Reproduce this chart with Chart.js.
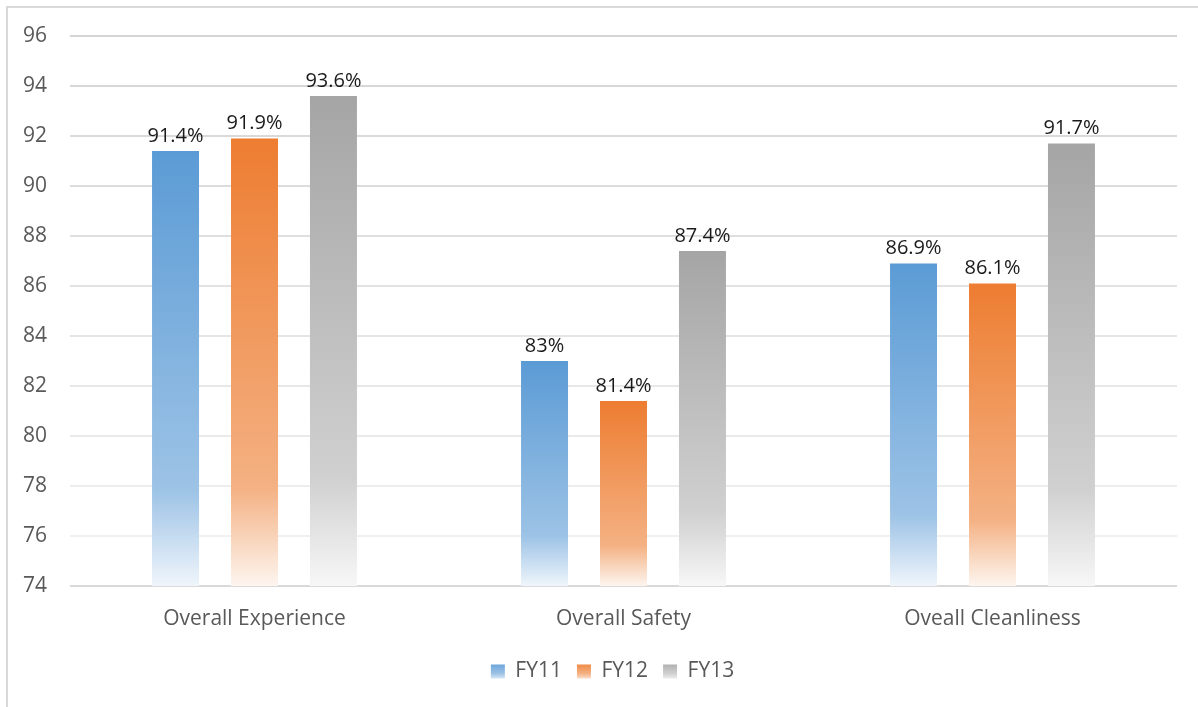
<!DOCTYPE html>
<html>
<head>
<meta charset="utf-8">
<script src="https://cdn.jsdelivr.net/npm/chart.js@4.4.1/dist/chart.umd.min.js"></script>
<style>
  html, body { margin: 0; padding: 0; background: #ffffff; overflow: hidden; }
  #wrap { position: absolute; left: 0; top: 0; width: 1198px; height: 707px; }
</style>
</head>
<body>
<div id="wrap"><canvas id="c" width="1198" height="707"></canvas></div>
<script>
// ---- data ----
const categories = ['Overall Experience', 'Overall Safety', 'Oveall Cleanliness'];
const seriesNames = ['FY11', 'FY12', 'FY13'];
const fy11 = [91.4, 83, 86.9];
const fy12 = [91.9, 81.4, 86.1];
const fy13 = [93.6, 87.4, 91.7];
const yTicks = [74, 76, 78, 80, 82, 84, 86, 88, 90, 92, 94, 96];

// ---- styles ----
const palettes = [
  ['#5b9bd5', '#9dc3e6', '#eff5fb'],
  ['#ed7d31', '#f4b183', '#fdf5ef'],
  ['#a5a5a5', '#d0d0d0', '#f7f7f7']
];
const FONT = '"Open Sans", "Noto Sans", sans-serif';

function barGradient(context, pal) {
  const chart = context.chart;
  const ys = chart.scales.y;
  if (!ys || context.raw === undefined) return pal[0];
  const top = ys.getPixelForValue(context.raw);
  const bottom = ys.bottom;
  if (!isFinite(top) || !isFinite(bottom) || bottom <= top) return pal[0];
  const g = chart.ctx.createLinearGradient(0, top, 0, bottom);
  g.addColorStop(0, pal[0]);
  g.addColorStop(0.78, pal[1]);
  g.addColorStop(1, pal[2]);
  return g;
}

const framePlugin = {
  id: 'frame',
  afterLayout(chart) {
    const lg = chart.legend;
    if (lg) { lg.left += 24; lg.right += 24; }
  },
  beforeDraw(chart) {
    const ctx = chart.ctx;
    ctx.save();
    ctx.strokeStyle = '#d9d9d9';
    ctx.lineWidth = 2;
    ctx.beginPath();
    ctx.moveTo(7, 720);
    ctx.lineTo(7, 7);
    ctx.lineTo(1210, 7);
    ctx.stroke();
    ctx.restore();
    // legend gradient boxes
    const lg = chart.legend;
    if (lg && lg.legendItems && lg.legendHitBoxes) {
      lg.legendItems.forEach((item, i) => {
        const hb = lg.legendHitBoxes[i];
        if (!hb) return;
        const pal = palettes[item.datasetIndex];
        const g = ctx.createLinearGradient(0, hb.top, 0, hb.top + hb.height);
        g.addColorStop(0, pal[0]);
        g.addColorStop(0.6, pal[1]);
        g.addColorStop(1, '#ffffff');
        item.fillStyle = g;
      });
    }
  }
};

const labelPlugin = {
  id: 'valueLabels',
  afterDatasetsDraw(chart) {
    const ctx = chart.ctx;
    ctx.save();
    ctx.font = '20px ' + FONT;
    ctx.fillStyle = '#1a1a1a';
    ctx.textAlign = 'center';
    ctx.textBaseline = 'bottom';
    chart.data.datasets.forEach((ds, di) => {
      const meta = chart.getDatasetMeta(di);
      meta.data.forEach((el, i) => {
        ctx.fillText(ds.data[i] + '%', el.x, el.y - 5);
      });
    });
    ctx.restore();
  }
};

function gridColor(ctx) {
  const v = ctx.tick ? ctx.tick.value : 0;
  if (v === 74) return '#d9d9d9';
  const t = (96 - v) / 20;
  const c = Math.round(0xd4 + t * (0xf0 - 0xd4));
  return 'rgb(' + c + ',' + c + ',' + c + ')';
}

const seriesData = [fy11, fy12, fy13];
const datasets = seriesNames.map((name, k) => ({
  label: name,
  data: seriesData[k],
  backgroundColor: (context) => barGradient(context, palettes[k]),
  borderWidth: 0,
  categoryPercentage: 0.642,
  barPercentage: 0.595
}));

const chart = new Chart(document.getElementById('c'), {
  type: 'bar',
  data: { labels: categories, datasets },
  options: {
    responsive: false,
    animation: false,
    devicePixelRatio: 1,
    layout: { padding: { left: 0, right: 21, top: 36, bottom: 15 } },
    scales: {
      x: {
        grid: { display: false },
        border: { display: false },
        ticks: { color: '#595959', font: { family: FONT, size: 21 }, padding: 12 },
        afterFit(scale) { scale.height = 60; }
      },
      y: {
        min: 74,
        max: 96,
        afterBuildTicks(scale) { scale.ticks = yTicks.map(v => ({ value: v })); },
        grid: { color: gridColor, lineWidth: 2, drawTicks: false },
        border: { display: false },
        ticks: { color: '#595959', font: { family: FONT, size: 21 }, padding: 23 },
        afterFit(scale) { scale.width = 70; }
      }
    },
    plugins: {
      legend: {
        position: 'bottom',
        labels: {
          color: '#595959',
          font: { family: FONT, size: 21 },
          boxWidth: 14,
          boxHeight: 14,
          padding: 15
        }
      },
      tooltip: { enabled: false }
    }
  },
  plugins: [framePlugin, labelPlugin]
});
chart.update();
</script>
</body>
</html>
